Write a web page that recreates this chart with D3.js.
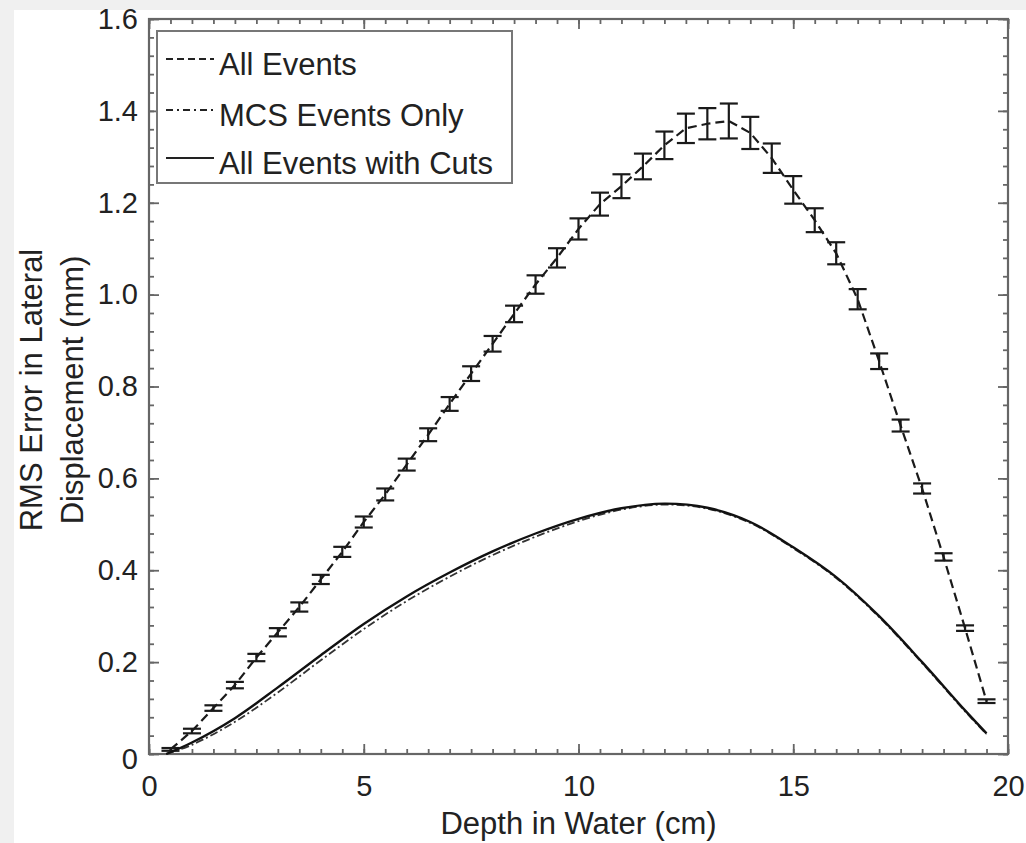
<!DOCTYPE html>
<html><head><meta charset="utf-8">
<script src="https://cdn.jsdelivr.net/npm/d3@7"></script>
<style>
body{margin:0;background:#f0f0f0}
svg{display:block}
text{font-family:"Liberation Sans",Arial,Helvetica,sans-serif;fill:#222}
</style>
</head><body>
<svg id="chart" width="1026" height="843"></svg>
<script>
// ---- data ----
const depthAll = [0.5,1,1.5,2,2.5,3,3.5,4,4.5,5,5.5,6,6.5,7,7.5,8,8.5,9,9.5,10,10.5,11,11.5,12,12.5,13,13.5,14,14.5,15,15.5,16,16.5,17,17.5,18,18.5,19,19.5];
const rmsAll   = [0.01,0.05,0.10,0.15,0.21,0.265,0.32,0.38,0.44,0.505,0.565,0.63,0.695,0.762,0.828,0.893,0.958,1.022,1.08,1.143,1.197,1.236,1.279,1.325,1.362,1.372,1.378,1.352,1.297,1.228,1.162,1.09,0.99,0.855,0.715,0.578,0.429,0.274,0.115];
const errAll   = [0.003,0.005,0.006,0.007,0.008,0.009,0.01,0.01,0.011,0.012,0.013,0.013,0.014,0.015,0.016,0.017,0.018,0.02,0.021,0.023,0.025,0.026,0.028,0.03,0.032,0.034,0.038,0.035,0.032,0.03,0.026,0.024,0.022,0.017,0.013,0.011,0.008,0.006,0.004];
const depthCurve = [0.4,1,2,3,4,5,6,7,8,9,10,11,12,13,14,15,16,17,18,19,19.5];
const rmsCuts = [0.0,0.025,0.078,0.145,0.215,0.283,0.343,0.395,0.441,0.48,0.512,0.535,0.545,0.536,0.505,0.45,0.385,0.3,0.2,0.095,0.045];
const rmsMCS  = [0.0,0.02,0.07,0.134,0.204,0.272,0.333,0.386,0.433,0.473,0.507,0.532,0.543,0.534,0.503,0.448,0.383,0.298,0.198,0.093,0.043];
const seriesNames = ["All Events","MCS Events Only","All Events with Cuts"];
const xTicks = [0,5,10,15,20];
const yTicks = [0,0.2,0.4,0.6,0.8,1.0,1.2,1.4,1.6];
const xTitle = "Depth in Water (cm)";
const yTitle = ["RMS Error in Lateral","Displacement (mm)"];

// ---- layout ----
const svg = d3.select("#chart");
const L=149, R=1008, T=19, B=754;
svg.append("rect").attr("x",14).attr("y",10).attr("width",1012).attr("height",833).attr("fill","#fff");

const x = d3.scaleLinear().domain([0,20]).range([L,R]);
const y = d3.scaleLinear().domain([0,1.6]).range([B,T]);

const axisColor="#666";
function styleAxis(g){
  g.select(".domain").remove();
  g.selectAll(".tick line").attr("stroke",axisColor).attr("stroke-width",1.8);
  g.selectAll(".tick text").attr("fill","#222").style("font-family",'"Liberation Sans",Arial,sans-serif');
}
const xMinor = d3.range(0,20.01,0.5);
const yMinor = d3.range(0,1.601,0.04);

// minor ticks
svg.append("g").attr("transform",`translate(0,${B})`).call(d3.axisBottom(x).tickValues(xMinor).tickSize(-5).tickFormat("")).call(styleAxis);
svg.append("g").attr("transform",`translate(0,${T})`).call(d3.axisTop(x).tickValues(xMinor).tickSize(-5).tickFormat("")).call(styleAxis);
svg.append("g").attr("transform",`translate(${L},0)`).call(d3.axisLeft(y).tickValues(yMinor).tickSize(-5).tickFormat("")).call(styleAxis);
svg.append("g").attr("transform",`translate(${R},0)`).call(d3.axisRight(y).tickValues(yMinor).tickSize(-5).tickFormat("")).call(styleAxis);

// major ticks
const gx = svg.append("g").attr("transform",`translate(0,${B})`)
  .call(d3.axisBottom(x).tickValues(xTicks).tickSize(-10).tickPadding(21).tickFormat(d3.format("d")))
  .call(styleAxis);
gx.selectAll(".tick text").attr("font-size",29);
svg.append("g").attr("transform",`translate(0,${T})`).call(d3.axisTop(x).tickValues(xTicks).tickSize(-10).tickFormat("")).call(styleAxis);
const gy = svg.append("g").attr("transform",`translate(${L},0)`)
  .call(d3.axisLeft(y).tickValues(yTicks).tickSize(-10).tickPadding(11).tickFormat(d=>d===0?"0":d3.format(".1f")(d)))
  .call(styleAxis);
gy.selectAll(".tick text").attr("font-size",29).filter(d=>d===0).attr("dy","0.5em");
svg.append("g").attr("transform",`translate(${R},0)`).call(d3.axisRight(y).tickValues(yTicks).tickSize(-10).tickFormat("")).call(styleAxis);

// frame
svg.append("rect").attr("x",L).attr("y",T).attr("width",R-L).attr("height",B-T)
  .attr("fill","none").attr("stroke",axisColor).attr("stroke-width",2.2);

// titles
svg.append("text").attr("x",(L+R)/2).attr("y",834).attr("text-anchor","middle").attr("font-size",31).text(xTitle);
svg.append("text").attr("transform","translate(42,390) rotate(-90)").attr("text-anchor","middle").attr("font-size",31).text(yTitle[0]);
svg.append("text").attr("transform","translate(83,390) rotate(-90)").attr("text-anchor","middle").attr("font-size",31).text(yTitle[1]);

// ---- series ----
const lineAll = d3.line().x((d,i)=>x(depthAll[i])).y(d=>y(d));
svg.append("path").datum(rmsAll).attr("d",lineAll).attr("fill","none")
  .attr("stroke","#1a1a1a").attr("stroke-width",2.2).attr("stroke-dasharray","9,5");

const eb = svg.append("g").attr("stroke","#1a1a1a").attr("stroke-width",2.2);
const cap = 9;
rmsAll.forEach((v,i)=>{
  const cx = x(depthAll[i]), y0 = y(v-errAll[i]), y1 = y(v+errAll[i]);
  eb.append("line").attr("x1",cx).attr("x2",cx).attr("y1",y0).attr("y2",y1);
  eb.append("line").attr("x1",cx-cap).attr("x2",cx+cap).attr("y1",y0).attr("y2",y0);
  eb.append("line").attr("x1",cx-cap).attr("x2",cx+cap).attr("y1",y1).attr("y2",y1);
});

const lineCurve = d3.line().curve(d3.curveCatmullRom.alpha(0.5)).x((d,i)=>x(depthCurve[i])).y(d=>y(d));
svg.append("path").datum(rmsMCS).attr("d",lineCurve).attr("fill","none")
  .attr("stroke","#333").attr("stroke-width",1.8).attr("stroke-dasharray","8,3,2,3");
svg.append("path").datum(rmsCuts).attr("d",lineCurve).attr("fill","none")
  .attr("stroke","#111").attr("stroke-width",2.4);

// ---- legend ----
const lg = svg.append("g");
lg.append("rect").attr("x",157).attr("y",31).attr("width",355).attr("height",152)
  .attr("fill","#fff").attr("stroke","#777").attr("stroke-width",2);
const legY = [64,115,163];
const dashes = ["7,4","7,4,2,4",null];
seriesNames.forEach((name,i)=>{
  const ln = lg.append("line").attr("x1",166).attr("x2",214).attr("y1",legY[i]-5).attr("y2",legY[i]-5)
    .attr("stroke","#222").attr("stroke-width",2);
  if(dashes[i]) ln.attr("stroke-dasharray",dashes[i]);
  lg.append("text").attr("x",219).attr("y",legY[i]+11).attr("font-size",31).text(name);
});
</script>
</body></html>
